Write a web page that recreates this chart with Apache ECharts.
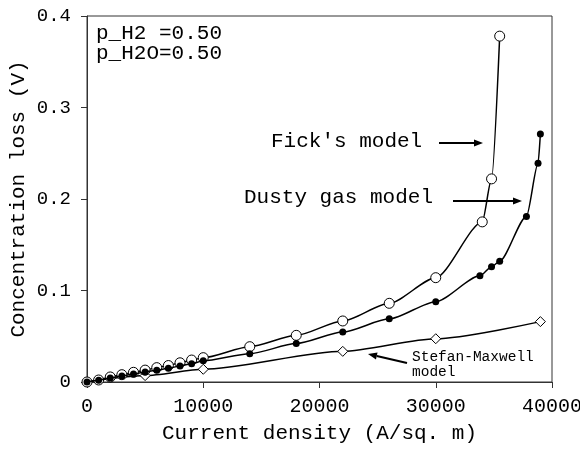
<!DOCTYPE html>
<html>
<head>
<meta charset="utf-8">
<script src="https://cdn.jsdelivr.net/npm/echarts@6/dist/echarts.min.js"></script>
<style>
  html, body { margin: 0; padding: 0; background: #fff; }
  #chart { width: 580px; height: 451px; }
</style>
</head>
<body>
<div id="chart"></div>
<script>
// Current density (A/sq. m) vs. concentration loss (V) for three diffusion models
const fickX = [0, 1000, 2000, 3000, 4000, 5000, 6000, 7000, 8000, 9000, 10000, 14000, 18000, 22000, 26000, 30000, 34000, 34800, 35500];
const fickY = [0, 0.0022, 0.0055, 0.008, 0.0106, 0.013, 0.0157, 0.018, 0.021, 0.024, 0.0266, 0.0386, 0.051, 0.0667, 0.086, 0.114, 0.175, 0.222, 0.378];

const dustyX = [0, 1000, 2000, 3000, 4000, 5000, 6000, 7000, 8000, 9000, 10000, 14000, 18000, 22000, 26000, 30000, 33800, 34800, 35500, 37800, 38800, 39000];
const dustyY = [0, 0.002, 0.0044, 0.0066, 0.0087, 0.011, 0.0128, 0.015, 0.0175, 0.02, 0.0233, 0.031, 0.042, 0.0546, 0.069, 0.0878, 0.116, 0.126, 0.132, 0.181, 0.239, 0.271];

const smX = [0, 5000, 10000, 22000, 30000, 39000];
const smY = [0, 0.007, 0.0139, 0.0335, 0.0473, 0.066];

const xTicks = [0, 10000, 20000, 30000, 40000];
const yTicks = [0, 0.1, 0.2, 0.3, 0.4];

const pairs = (xs, ys) => xs.map((x, i) => [x, ys[i]]);

const FONT = '"Liberation Mono", "DejaVu Sans Mono", monospace';
const INK = '#000';
const AXIS = '#333';

const chart = echarts.init(document.getElementById('chart'), null, { renderer: 'canvas' });

function arrow(x1, y1, x2, y2, head, half) {
  const a = Math.atan2(y2 - y1, x2 - x1);
  const bx = x2 - head * Math.cos(a), by = y2 - head * Math.sin(a);
  const px = -Math.sin(a) * half, py = Math.cos(a) * half;
  return [
    { type: 'line', shape: { x1: x1, y1: y1, x2: bx, y2: by }, style: { stroke: INK, lineWidth: 2 } },
    { type: 'polygon', shape: { points: [[x2, y2], [bx + px, by + py], [bx - px, by - py]] }, style: { fill: INK } }
  ];
}

// text placed by its vertical centre
const label = (text, x, cy, size) => ({
  type: 'text', left: x, top: Math.round(cy - size / 2),
  style: { text: text, font: size + 'px ' + FONT, fill: INK }
});

chart.setOption({
  animation: false,
  backgroundColor: '#fff',
  grid: { left: 87, right: 28, top: 16, bottom: 69, outerBoundsMode: 'none', containLabel: false,
          show: true, borderColor: AXIS, borderWidth: 1 },
  xAxis: {
    type: 'value', min: 0, max: 40000, interval: 10000,
    name: 'Current density (A/sq. m)', nameLocation: 'middle', nameGap: 41, nameMoveOverlap: false,
    nameTextStyle: { fontFamily: FONT, fontSize: 21, color: INK },
    axisLine: { show: true, lineStyle: { color: AXIS, width: 1 } },
    axisTick: { show: true, inside: false, length: 6, lineStyle: { color: AXIS } },
    axisLabel: { fontFamily: FONT, fontSize: 20, color: INK, margin: 15,
      formatter: v => xTicks.includes(v) ? String(v) : '' },
    splitLine: { show: false }
  },
  yAxis: {
    type: 'value', min: 0, max: 0.4, interval: 0.1,
    name: 'Concentration loss (V)', nameLocation: 'middle', nameGap: 58, nameRotate: 90,
    nameMoveOverlap: false,
    nameTextStyle: { fontFamily: FONT, fontSize: 21, color: INK },
    axisLine: { show: true, lineStyle: { color: AXIS, width: 1 } },
    axisTick: { show: true, inside: false, length: 6, lineStyle: { color: AXIS } },
    axisLabel: {
      fontFamily: FONT, fontSize: 19, color: INK, margin: 16,
      formatter: v => {
        const t = yTicks.find(k => Math.abs(k - v) < 1e-9);
        if (t === undefined) return '';
        return t === 0 ? '0' : t.toFixed(1);
      }
    },
    splitLine: { show: false }
  },
  series: [
    {
      name: 'Stefan-Maxwell model', type: 'line', data: pairs(smX, smY),
      smooth: 0.25, smoothMonotone: 'x', clip: false,
      symbol: 'diamond', symbolSize: [10, 10],
      lineStyle: { color: INK, width: 1.5 },
      itemStyle: { color: '#fff', borderColor: INK, borderWidth: 1 }, z: 2
    },
    {
      name: "Fick's model", type: 'line', data: pairs(fickX, fickY),
      smooth: 0.25, smoothMonotone: 'x', clip: false,
      symbol: 'circle', symbolSize: 10,
      lineStyle: { color: INK, width: 1.5 },
      itemStyle: { color: '#fff', borderColor: INK, borderWidth: 1 }, z: 3
    },
    {
      name: 'Dusty gas model', type: 'line', data: pairs(dustyX, dustyY),
      smooth: 0.25, smoothMonotone: 'x', clip: false,
      symbol: 'circle', symbolSize: 7,
      lineStyle: { color: INK, width: 1.5 },
      itemStyle: { color: INK, borderColor: INK, borderWidth: 0 }, z: 4
    }
  ],
  graphic: [
    label('p_H2 =0.50', 96, 33, 21),
    label('p_H2O=0.50', 96, 53, 21),
    label("Fick's model", 271, 141, 21),
    label('Dusty gas model', 244, 197, 21),
    label('Stefan-Maxwell', 412, 357, 14.5),
    label('model', 412, 372, 14.5),
    ...arrow(439, 143, 483, 143, 9, 3.5),
    ...arrow(453, 201, 522, 201, 9, 3.5),
    ...arrow(407, 363, 368, 354, 9, 3.5)
  ]
});
</script>
</body>
</html>
